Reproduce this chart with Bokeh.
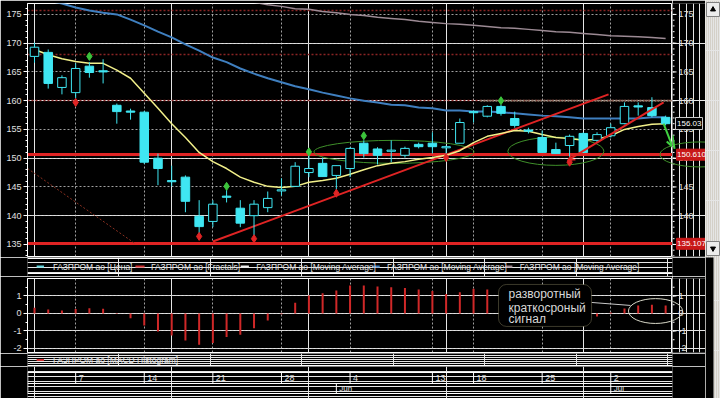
import numpy as np
from bokeh.plotting import figure
from bokeh.layouts import column, row
from bokeh.models import (Range1d, LinearAxis, FixedTicker, Grid, Label, BoxAnnotation,
                          Arrow, OpenHead, VeeHead, ColumnDataSource)
from bokeh.core.properties import value
from bokeh.embed import file_html
from bokeh.resources import INLINE

# ---------------- data ----------------
day_index = list(range(47))
opens = [167.7, 168.4, 162.3, 161.4, 166.0, 165.2, 159.2, 158.2, 158.0, 150.0, 146.1, 146.7,
         139.9, 139.0, 143.4, 141.3, 140.0, 141.4, 144.3, 145.1, 147.5, 149.1, 147.0, 148.2,
         152.6, 151.6, 151.2, 150.5, 152.4, 152.6, 151.8, 152.6, 158.1, 157.3, 159.0, 156.9,
         154.9, 153.6, 151.5, 152.2, 154.3, 153.1, 153.9, 156.0, 159.1, 158.8, 157.1]
highs = [170.1, 168.9, 164.4, 166.5, 166.7, 167.2, 159.5, 158.6, 158.2, 150.8, 148.7, 147.0,
         142.7, 142.7, 144.6, 142.7, 142.7, 144.2, 146.5, 149.3, 150.5, 150.1, 148.7, 151.9,
         153.1, 151.9, 153.1, 152.0, 152.7, 154.5, 152.2, 156.9, 158.3, 159.2, 159.3, 158.1,
         155.3, 154.8, 152.7, 154.1, 154.5, 154.5, 156.0, 159.7, 159.7, 160.6, 157.4]
lows = [166.6, 162.1, 161.1, 160.4, 164.0, 163.0, 156.0, 156.7, 149.0, 145.3, 145.1, 140.6,
        136.9, 138.0, 142.3, 138.0, 136.2, 140.6, 143.5, 145.1, 146.7, 146.8, 144.4, 146.7,
        150.1, 148.9, 149.3, 150.1, 151.7, 150.8, 150.0, 152.6, 156.2, 157.1, 157.4, 155.3,
        154.3, 151.0, 150.8, 149.6, 151.0, 152.7, 153.6, 155.9, 157.4, 157.1, 155.7]
closes = [169.3, 163.0, 164.0, 165.6, 164.9, 165.0, 158.1, 158.0, 149.3, 148.2, 145.9, 142.5,
          138.1, 142.0, 143.2, 138.7, 142.0, 143.0, 144.5, 148.6, 148.2, 146.8, 148.7, 151.7,
          150.8, 150.5, 151.4, 151.7, 152.0, 152.0, 152.0, 156.2, 157.9, 159.0, 157.8, 155.7,
          154.7, 151.0, 150.8, 153.8, 151.0, 154.1, 155.3, 159.0, 158.9, 157.4, 156.0]
ma_fast = [168.9, 168.0, 167.3, 166.8, 166.5, 166.5, 165.3, 163.9, 161.3, 158.7, 156.0, 153.6,
           151.0, 149.4, 148.2, 146.7, 145.8, 145.1, 144.9, 145.1, 145.8, 146.1, 146.5, 147.2,
           148.0, 148.7, 149.1, 149.4, 149.8, 150.1, 150.5, 151.3, 152.7, 153.8, 154.3, 154.8,
           154.7, 154.1, 153.6, 153.4, 153.1, 153.3, 153.9, 155.0, 155.5, 155.9, 156.0]
ma_mid = [178.1, 177.4, 176.9, 176.2, 175.7, 175.3, 175.0, 174.1, 173.1, 172.0, 171.0, 169.8,
          168.7, 167.5, 166.7, 165.6, 164.7, 163.9, 163.2, 162.5, 162.0, 161.4, 160.9, 160.4,
          160.0, 159.7, 159.3, 159.2, 158.8, 158.7, 158.3, 158.3, 158.1, 158.1, 158.0, 157.8,
          157.6, 157.4, 157.3, 157.1, 156.9, 156.9, 156.9, 156.9, 156.9, 157.1, 157.1]
ma_slow_idx = list(range(14, 47))
ma_slow = [177.8, 177.5, 177.1, 176.7, 176.4, 176.0, 175.9, 175.5, 175.3, 175.0, 174.8, 174.5,
           174.3, 174.1, 173.8, 173.6, 173.4, 173.3, 173.1, 172.9, 172.7, 172.6, 172.4, 172.2,
           172.0, 171.9, 171.7, 171.5, 171.3, 171.2, 171.1, 171.0, 170.8]
fractal_up_idx = [4, 14, 20, 24, 34]
fractal_up = [167.7, 145.1, 151.1, 153.9, 160.0]
fractal_down_idx = [3, 12, 16, 22, 30, 39]
fractal_down = [159.7, 136.4, 136.0, 143.9, 150.1, 149.3]
macd_hist = [0.33, 0.23, 0.17, 0.25, 0.30, 0.27, 0.03, -0.27, -0.69, -1.03, -1.26, -1.54,
             -1.79, -1.68, -1.35, -1.22, -0.84, -0.40, -0.05, 0.61, 1.03, 1.16, 1.31, 1.60,
             1.60, 1.54, 1.50, 1.45, 1.37, 1.28, 1.12, 1.22, 1.41, 1.37, 1.10, 0.80, 0.55,
             0.30, 0.10, -0.05, -0.20, -0.17, 0.05, 0.28, 0.45, 0.50, 0.45]
date_tick_idx = [3, 8, 13, 18, 23, 29, 32, 37, 42]
date_tick_labels = ["7", "14", "21", "28", "4", "13", "18", "25", "2"]
month_idx = [22, 42]
month_labels = ["Jun", "Jul"]
price_ticks = [135, 140, 145, 150, 155, 160, 165, 170, 175]
price_minor = list(range(133, 177))
macd_ticks = [-2, -1, 0, 1]
macd_minor = [-2.0, -1.5, -1.0, -0.5, 0.0, 0.5, 1.0, 1.5]
support_levels = [150.61, 135.107]
dotted_levels = [175.6, 168.0, 160.1]
last_price = 156.03
trend_up_x = [13.0, 41.84]
trend_up_y = [135.5, 161.1]
trend2_x = [45.85, 38.85]
trend2_y = [159.7, 149.6]
old_trend_x = [-0.5, 7.36]
old_trend_y = [148.2, 135.1]
resist_seg_x = [32.5, 46.5]
resist_seg_y = [160.0, 160.0]
ellipse_x = [26.2, 38.0]
ellipse_y = [151.1, 151.2]
ellipse_w = [11.66, 7.0]
ellipse_h = [4.0, 4.9]
axis_ellipse = dict(x=48.5, y=150.65, w=5.83, h=4.35)
macd_ellipse = dict(x=45.26, y=0.14, w=3.94, h=1.42)
legend_main = ["ГАЗПРОМ ао [Цена]", "ГАЗПРОМ ао [Fractals]", "ГАЗПРОМ ао [Moving Average]",
               "ГАЗПРОМ ао [Moving Average]", "ГАЗПРОМ ао [Moving Average]"]
legend_macd = "ГАЗПРОМ ао [MACD Histogram]"
note_lines = ["разворотный", "краткосроный", "сигнал"]

# ---------------- style ----------------
FONT = "Liberation Sans"
BG = "black"
TXT = "#e0e0e0"
CYAN = "#3fe6f2"
RED = "#e02424"
GREEN = "#3cc43c"
ELL_GREEN = "#3f8f2a"
YELLOW = "#f2f08a"
BLUE = "#3f7fbf"
PINK = "#9c8a94"
GRID = "#c8c8c8"

FRAME_W = 645
XR = Range1d(-0.51, 46.5)


def dx(px):
    return px * (XR.end - XR.start) / FRAME_W


XR_STRIP = Range1d(XR.end, XR.end + dx(33))


def base_fig(width, height, x_range, y_range, **kw):
    return figure(width=width, height=height, x_range=x_range, y_range=y_range,
                  x_axis_location=None, y_axis_location=None, toolbar_location=None,
                  output_backend="svg", background_fill_color=BG, border_fill_color=BG, **kw)


def add_left_axis(p, ticks, minor, overrides=None):
    ax = LinearAxis(ticker=FixedTicker(ticks=ticks, minor_ticks=minor),
                    axis_line_color="white", major_tick_line_color="white",
                    minor_tick_line_color="white", major_tick_out=4, major_tick_in=0,
                    minor_tick_out=2, minor_tick_in=0, major_label_standoff=2,
                    major_label_text_color=TXT, major_label_text_font=FONT,
                    major_label_text_font_size="9px")
    if overrides:
        ax.major_label_overrides = overrides
    p.add_layout(ax, "left")


def right_scale(s, ticks, minor, labels):
    # right-hand scale drawn in its own strip, on the shared y scale
    x0 = XR_STRIP.start
    s.segment(x0=x0, y0=minor, x1=x0 + dx(2), y1=minor, line_color="white", line_width=1)
    s.segment(x0=x0, y0=ticks, x1=x0 + dx(4), y1=ticks, line_color="white", line_width=1)
    s.text(x=x0 + dx(6), y=ticks, text=labels, text_color=TXT, text_font=value(FONT),
           text_font_size="9px", text_baseline="middle", text_align="left")


# ---------------- main price panel ----------------
main = base_fig(672, 257, XR, Range1d(132.9, 176.9), min_border_left=27, min_border_right=0,
                min_border_top=3, min_border_bottom=1, outline_line_color="white")
add_left_axis(main, price_ticks, price_minor)
main.add_layout(Grid(dimension=0, ticker=FixedTicker(ticks=date_tick_idx),
                     grid_line_color=GRID, grid_line_dash="2 2", grid_line_alpha=0.8))
main.add_layout(Grid(dimension=1, ticker=FixedTicker(ticks=price_ticks),
                     grid_line_color=GRID, grid_line_dash="2 2", grid_line_alpha=0.8))

main.hspan(y=dotted_levels, line_color="#8a2424", line_width=1.5, line_dash="2 2")
main.segment(x0=[resist_seg_x[0]], y0=[resist_seg_y[0]], x1=[resist_seg_x[1]], y1=[resist_seg_y[1]],
             line_color="#8a7a6a", line_width=2, line_dash="2 1")
main.hspan(y=support_levels, line_color=RED, line_width=3)
main.segment(x0=[old_trend_x[0]], y0=[old_trend_y[0]], x1=[old_trend_x[1]], y1=[old_trend_y[1]],
             line_color="#8a3020", line_width=1, line_dash="2 2")

main.line(ma_slow_idx, ma_slow, line_color=PINK, line_width=1.5)
main.line(day_index, ma_mid, line_color=BLUE, line_width=2)

main.ellipse(x=ellipse_x, y=ellipse_y, width=ellipse_w, height=ellipse_h,
             fill_alpha=0, line_color=ELL_GREEN, line_width=1)
main.ellipse(x=[axis_ellipse["x"]], y=[axis_ellipse["y"]], width=[axis_ellipse["w"]],
             height=[axis_ellipse["h"]], fill_alpha=0, line_color=ELL_GREEN, line_width=1)

main.segment(x0=[trend_up_x[0]], y0=[trend_up_y[0]], x1=[trend_up_x[1]], y1=[trend_up_y[1]],
             line_color=RED, line_width=2)

main.line(day_index, ma_fast, line_color=YELLOW, line_width=1.5)

up = [c >= o for o, c in zip(opens, closes)]
cs = ColumnDataSource(dict(
    x=day_index, lo=lows, hi=highs,
    top=[max(o, c) for o, c in zip(opens, closes)],
    bottom=[min(o, c) for o, c in zip(opens, closes)],
    fill=[BG if u else CYAN for u in up]))
main.segment(x0="x", y0="lo", x1="x", y1="hi", source=cs, line_color=CYAN, line_width=1)
main.vbar(x="x", top="top", bottom="bottom", width=0.62, source=cs,
          fill_color="fill", line_color=CYAN, line_width=1)

main.scatter(fractal_up_idx, fractal_up, marker="diamond", size=8, color=GREEN)
main.scatter(fractal_down_idx, fractal_down, marker="diamond", size=8, color=RED)

main.add_layout(Arrow(x_start=trend2_x[0], y_start=trend2_y[0], x_end=trend2_x[1], y_end=trend2_y[1],
                      line_color=RED, line_width=2,
                      end=VeeHead(size=7, fill_color=RED, line_color=RED)))
main.add_layout(Arrow(x_start=45.85, y_start=156.0, x_end=46.5, y_end=152.0,
                      line_color="#40d040", line_width=2,
                      end=OpenHead(size=7, line_color="#40d040", line_width=2)))

# right strip of the price panel: scale and value boxes
pstrip = base_fig(33, 257, XR_STRIP, main.y_range, min_border_left=0, min_border_right=0,
                  min_border_top=3, min_border_bottom=1, outline_line_color=None)
right_scale(pstrip, price_ticks, price_minor, [str(v) for v in price_ticks])
bx = XR_STRIP.start + dx(3)
pstrip.quad(left=[bx], right=[bx + dx(27)], top=[last_price + 6 / 5.75], bottom=[last_price - 6 / 5.75],
            fill_color="black", line_color="#c8c8c8", line_width=1)
pstrip.quad(left=[bx + dx(1)] * 2, right=[bx + dx(34)] * 2, top=[v + 5.5 / 5.75 for v in support_levels],
            bottom=[v - 5.5 / 5.75 for v in support_levels], fill_color="#c81818", line_color="#c81818")
pstrip.text(x=[bx + dx(1.5)] * 3, y=[last_price] + support_levels,
            text=[f"{last_price:.2f}"] + [f"{v:.3f}" for v in support_levels],
            text_color="white", text_font=value(FONT), text_font_size="8px",
            text_baseline="middle", text_align="left")
pstrip.ellipse(x=[axis_ellipse["x"]], y=[axis_ellipse["y"]], width=[axis_ellipse["w"]],
               height=[axis_ellipse["h"]], fill_alpha=0, line_color=ELL_GREEN, line_width=1)
pstrip.segment(x0=[XR_STRIP.start], y0=[154.0], x1=[XR_STRIP.start + dx(2)], y1=[151.6],
               line_color="#40d040", line_width=2)

# ---------------- legend strip 1 ----------------
leg1 = base_fig(705, 19, Range1d(0, 705), Range1d(19, 0), min_border=0, outline_line_color=None)
leg1.hspan(y=[0.5, 16], line_color="white", line_width=1)
leg_line_x0 = [10, 118, 233, 377, 522]
leg_line_x1 = [18, 128, 242, 385, 530]
leg_text_x = [28, 135, 250, 393, 538]
leg_colors = ["#60d8e0", "#d03030", "#f0f0f0", "#4080c0", "#a08890"]
leg1.segment(x0=leg_line_x0, y0=9, x1=leg_line_x1, y1=9, line_color=leg_colors, line_width=2)
leg1.text(x=leg_text_x, y=9, text=legend_main, text_color=TXT, text_font=value(FONT),
          text_font_size="8.5px", text_baseline="middle", text_align="left")

# ---------------- MACD panel ----------------
macd = base_fig(672, 77, XR, Range1d(-2.23, 2.0), min_border_left=27, min_border_right=0,
                min_border_top=2, min_border_bottom=1, outline_line_color="white")
add_left_axis(macd, macd_ticks, macd_minor, {-2: "-2", -1: "-1", 0: "0", 1: "1"})
macd.add_layout(Grid(dimension=0, ticker=FixedTicker(ticks=date_tick_idx),
                     grid_line_color=GRID, grid_line_dash="2 2", grid_line_alpha=0.8))
macd.add_layout(Grid(dimension=1, ticker=FixedTicker(ticks=macd_ticks),
                     grid_line_color=GRID, grid_line_dash="2 2", grid_line_alpha=0.8))
macd.segment(x0=day_index, y0=0, x1=day_index, y1=macd_hist, line_color="#d02828", line_width=2)
macd.segment(x0=[40.6], y0=[0.63], x1=[43.44], y1=[0.46], line_color="#c8c8c8", line_width=1)
macd.ellipse(x=[macd_ellipse["x"]], y=[macd_ellipse["y"]], width=[macd_ellipse["w"]],
             height=[macd_ellipse["h"]], fill_alpha=0, line_color="#d8d8c8", line_width=1)
macd.add_layout(BoxAnnotation(left=33.82, right=40.6, top=1.66, bottom=-0.74, fill_color="black",
                              fill_alpha=1, line_color="#c8c090", line_width=1, border_radius=8))
for txt, yy in zip(note_lines, [1.14, 0.34, -0.34]):
    macd.add_layout(Label(x=34.55, y=yy, text=txt, text_baseline="middle", text_align="left",
                          text_color="#d8d8d8", text_font=FONT, text_font_size="12px"))

mstrip = base_fig(33, 77, XR_STRIP, macd.y_range, min_border_left=0, min_border_right=0,
                  min_border_top=2, min_border_bottom=1, outline_line_color=None)
right_scale(mstrip, macd_ticks, macd_minor, [str(v) for v in macd_ticks])
mstrip.ellipse(x=[macd_ellipse["x"]], y=[macd_ellipse["y"]], width=[macd_ellipse["w"]],
               height=[macd_ellipse["h"]], fill_alpha=0, line_color="#d8d8c8", line_width=1)

# ---------------- legend strip 2 ----------------
leg2 = base_fig(705, 13, Range1d(0, 705), Range1d(13, 0), min_border=0, outline_line_color=None)
leg2.hspan(y=[12], line_color="white", line_width=1)
leg2.segment(x0=[10], y0=6.5, x1=[18], y1=6.5, line_color="#d03030", line_width=2)
leg2.text(x=[28], y=6.5, text=[legend_macd], text_color=TXT, text_font=value(FONT),
          text_font_size="8.5px", text_baseline="middle", text_align="left")

# ---------------- date panel ----------------
dates = base_fig(705, 32, XR, Range1d(32, 0), min_border_left=27, min_border_right=33,
                 min_border_top=0, min_border_bottom=0, outline_line_color=None)
dates.hspan(y=[6, 17, 27], line_color="white", line_width=1)
dates.segment(x0=[-0.49], y0=6, x1=[-0.49], y1=27, line_color="white", line_width=1)
dates.segment(x0=date_tick_idx, y0=6, x1=date_tick_idx, y1=17, line_color="white", line_width=1)
dates.segment(x0=month_idx, y0=17, x1=month_idx, y1=27, line_color="white", line_width=1)
dates.text(x=date_tick_idx, y=11.5, text=date_tick_labels, x_offset=3, text_color=TXT,
           text_font=value(FONT), text_font_size="9px", text_baseline="middle", text_align="left")
dates.text(x=month_idx, y=22, text=month_labels, x_offset=3, text_color=TXT,
           text_font=value(FONT), text_font_size="8px", text_baseline="middle", text_align="left")

# ---------------- scrollbar strip ----------------
sb = figure(width=15, height=398, x_range=Range1d(0, 15), y_range=Range1d(398, 0),
            x_axis_location=None, y_axis_location=None, toolbar_location=None,
            output_backend="svg", background_fill_color="#d4d0c8", border_fill_color="#d4d0c8",
            min_border=0, outline_line_color=None)
sb.quad(left=[0], right=[8], top=[257], bottom=[398], fill_color="black", line_color=None)
sb.quad(left=[1, 1], right=[14, 14], top=[2, 241], bottom=[16, 255],
        fill_color="#ececec", line_color="#808080")
sb.scatter(x=[7.5, 7.5], y=[9, 248], marker=["triangle", "inverted_triangle"], size=5, color="black")

layout = row(column(row(main, pstrip), leg1, row(macd, mstrip), leg2, dates), sb)
open("out.html", "w").write(file_html(layout, INLINE))
